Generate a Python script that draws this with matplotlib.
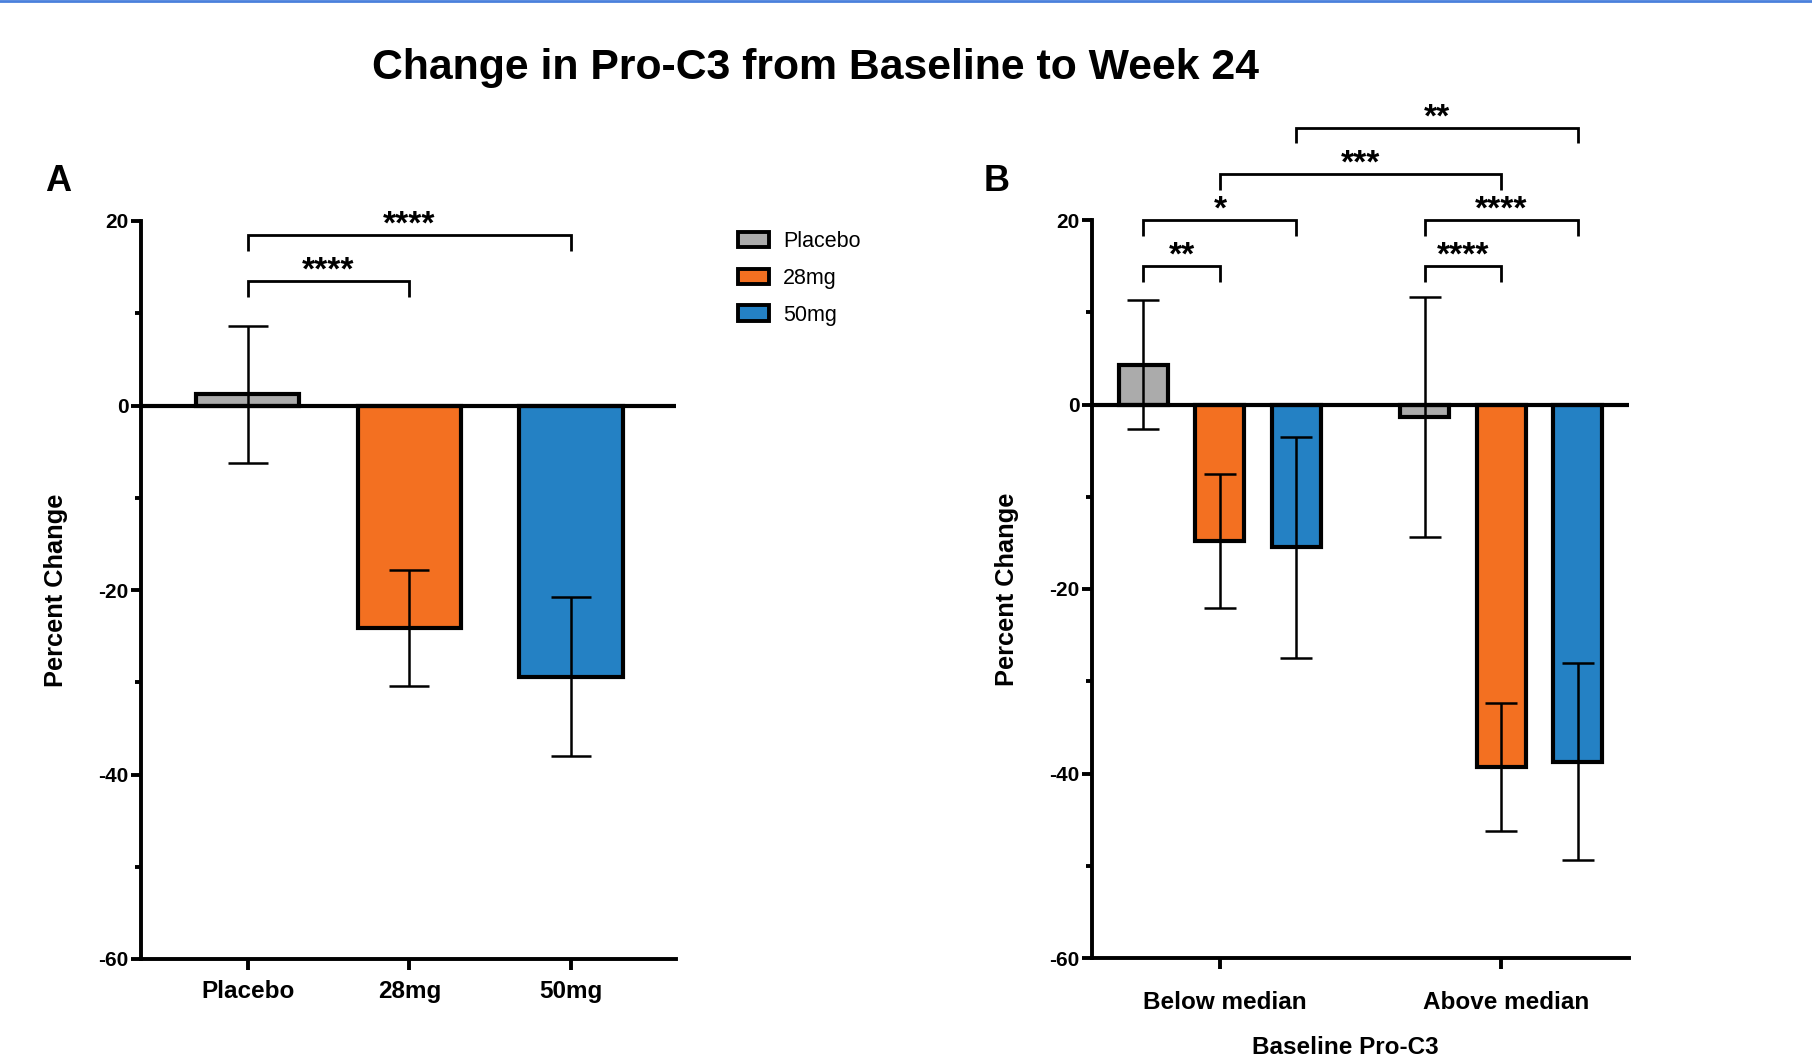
import numpy as np
import matplotlib
matplotlib.use("Agg")
import matplotlib.pyplot as plt
import matplotlib.transforms as mtransforms
from matplotlib.patches import Patch

plt.rcParams['font.family'] = ['Liberation Sans', 'DejaVu Sans']

# --- data ---
groups = ['Placebo', '28mg', '50mg']
colors = ['#ABABAB', '#F37021', '#2481C4']

# panel A: overall
a_mean = [1.2, -24.1, -29.4]
a_err = [7.4, 6.3, 8.6]

# panel B: split by baseline Pro-C3
b_cats = ['Below median', 'Above median']
b_mean = {'Placebo': [4.3, -1.4], '28mg': [-14.8, -39.3], '50mg': [-15.5, -38.7]}
b_err = {'Placebo': [7.0, 13.0], '28mg': [7.3, 6.9], '50mg': [12.0, 10.7]}

# significance brackets: (x1, x2, height, label)
a_sig = [(0, 1, 13.5, '****'), (0, 2, 18.5, '****')]
b_sig = [(0, 1, 15, '**'), (0, 2, 20, '*'), (1, 4, 25, '***'),
         (2, 5, 30, '**'), (3, 5, 20, '****'), (3, 4, 15, '****')]

fig = plt.figure(figsize=(18.12, 10.54), dpi=100)

# thin blue border at top
fig.add_artist(plt.Line2D([0, 1], [0.999, 0.999], color='#4A80DC', lw=2.0,
                          transform=fig.transFigure))

fig.text(816 / 1812, 1 - 68 / 1054, 'Change in Pro-C3 from Baseline to Week 24',
         ha='center', va='center', fontsize=30.8, fontweight='bold')


def style_axis(ax, xpad):
    ax.set_ylim(-60, 20)
    ax.set_yticks([-60, -40, -20, 0, 20])
    ax.set_yticks([-50, -30, -10, 10], minor=True)
    ax.set_yticklabels(['-60', '-40', '-20', '0', '20'], fontsize=15, fontweight='bold')
    for s in ['top', 'right']:
        ax.spines[s].set_visible(False)
    for s in ['left', 'bottom']:
        ax.spines[s].set_linewidth(2.8)
    ax.tick_params(axis='y', which='major', length=7, width=2.8, pad=2)
    ax.tick_params(axis='y', which='minor', length=4, width=2.8)
    ax.tick_params(axis='x', length=8, width=2.8, pad=xpad)
    ax.axhline(0, color='black', lw=3.0, zorder=3)
    ax.set_ylabel('Percent Change', fontsize=18.3, fontweight='bold', labelpad=22)


def bracket(ax, x1, x2, y, label, leg=1.7):
    ax.plot([x1, x1, x2, x2], [y - leg, y, y, y - leg], color='black', lw=2.0,
            clip_on=False, solid_capstyle='butt', solid_joinstyle='miter')
    ax.text((x1 + x2) / 2, y - 0.6, label, ha='center', va='bottom',
            fontsize=24, fontweight='bold', clip_on=False)


# ---------- panel A ----------
axA = fig.add_axes([141 / 1812, 1 - 959 / 1054, (676 - 141) / 1812, (959 - 221) / 1054])
xa = np.arange(len(groups))
axA.bar(xa, a_mean, width=0.64, color=colors, edgecolor='black', linewidth=3.0, zorder=2)
axA.errorbar(xa, a_mean, yerr=a_err, fmt='none', ecolor='black', elinewidth=1.8,
             capsize=14.4, capthick=1.8, zorder=4)
axA.set_xlim(-0.66, 2.65)
axA.set_xticks(xa)
axA.set_xticklabels(groups, fontsize=17.5, fontweight='bold')
style_axis(axA, 7)
for x1, x2, y, lab in a_sig:
    bracket(axA, xa[x1], xa[x2], y, lab)

fig.text(58 / 1812, 1 - 182 / 1054, 'A', fontsize=26, fontweight='bold', ha='center', va='center')

handles = [Patch(facecolor=c, edgecolor='black', linewidth=2.8) for c in colors]
fig.legend(handles, groups, loc='upper left', bbox_to_anchor=(738 / 1812, 1 - 231 / 1054),
           frameon=False, fontsize=15.5, handlelength=1.45, handleheight=0.75,
           handletextpad=0.65, labelspacing=0.74, borderaxespad=0, borderpad=0)

# ---------- panel B ----------
axB = fig.add_axes([1092 / 1812, 1 - 958 / 1054, (1629 - 1092) / 1812, (958 - 220) / 1054])
gpos = np.arange(len(b_cats))
off = 0.272
xb = []
for i, g in enumerate(groups):
    xs = gpos + (i - 1) * off
    xb.append(xs)
    axB.bar(xs, b_mean[g], width=0.174, color=colors[i], edgecolor='black',
            linewidth=3.0, zorder=2)
    axB.errorbar(xs, b_mean[g], yerr=b_err[g], fmt='none', ecolor='black',
                 elinewidth=1.8, capsize=11.2, capthick=1.8, zorder=4)
axB.set_xlim(-0.455, 1.455)
axB.set_xticks(gpos)
axB.set_xticklabels(b_cats, fontsize=17.5, fontweight='bold')
style_axis(axB, 16)
# labels sit a little right of their ticks in the original
shift = mtransforms.ScaledTranslation(5 / 100, 0, fig.dpi_scale_trans)
for lab in axB.get_xticklabels():
    lab.set_transform(lab.get_transform() + shift)

# bar positions ordered: below (placebo, 28, 50), above (placebo, 28, 50)
order = [xb[0][0], xb[1][0], xb[2][0], xb[0][1], xb[1][1], xb[2][1]]
for x1, x2, y, lab in b_sig:
    bracket(axB, order[x1], order[x2], y, lab)

fig.text(997 / 1812, 1 - 182 / 1054, 'B', fontsize=26, fontweight='bold', ha='center', va='center')
fig.text(1345 / 1812, 1 - 1036 / 1054, 'Baseline Pro-C3', ha='center', va='top',
         fontsize=17.5, fontweight='bold')

fig.savefig('out.png', dpi=100)
